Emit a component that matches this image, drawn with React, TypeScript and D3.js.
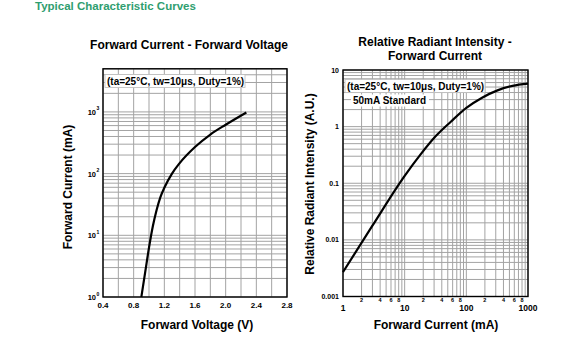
import React from "react";
import * as d3 from "d3";

// Left chart: Forward Current vs Forward Voltage
const vfVoltage = [0.9, 0.95, 1.0, 1.05, 1.1, 1.15, 1.2, 1.3, 1.4, 1.6, 1.8, 2.0, 2.27];
const vfCurrent = [1, 2.5, 6.3, 14, 26, 42, 59, 100, 148, 270, 430, 620, 980];
const vTicks = [0.4, 0.8, 1.2, 1.6, 2.0, 2.4, 2.8];
const vGrid = [0.6, 1.0, 1.4, 1.8, 2.2, 2.6];
const iExpTicks = [0, 1, 2, 3];

// Right chart: Relative Radiant Intensity vs Forward Current
const ifCurrent = [1, 3, 10, 18, 32, 56, 100, 180, 320, 560, 1000];
const relIntensity = [0.0027, 0.0178, 0.135, 0.32, 0.68, 1.22, 2.14, 3.24, 4.37, 5.25, 5.75];
const ifMajorTicks = [1, 10, 100, 1000];
const ifMinorLabels = [2, 4, 6, 8];
const relTicks = [10, 1, 0.1, 0.01, 0.001];
const relTickLabels = ["10", "1", "0.1", "0.01", "0.001"];

const FONT = "'Liberation Sans', Arial, sans-serif";
const GRID = "#a3a3a3";

function logGrid(min: number, max: number): number[] {
  const out: number[] = [];
  for (let e = Math.floor(Math.log10(min)); e <= Math.ceil(Math.log10(max)); e++) {
    for (let m = 1; m <= 9; m++) {
      const v = m * Math.pow(10, e);
      if (v >= min * 0.9999 && v <= max * 1.0001) out.push(v);
    }
  }
  return out;
}

export default function App() {
  const xL = d3.scaleLinear().domain([0.4, 2.8]).range([103, 287]);
  const yL = d3.scaleLog().domain([1, 5000]).range([297, 68.8]);
  const xR = d3.scaleLog().domain([1, 1000]).range([343, 528]);
  const yR = d3.scaleLog().domain([0.001, 10]).range([296.5, 70]);

  const lineL = d3
    .line<number>()
    .x((_, i) => xL(vfVoltage[i]))
    .y((d) => yL(d))
    .curve(d3.curveMonotoneX);
  const lineR = d3
    .line<number>()
    .x((_, i) => xR(ifCurrent[i]))
    .y((d) => yR(d))
    .curve(d3.curveMonotoneX);

  const lGridY = logGrid(1, 5000);
  const rGridX = logGrid(1, 1000);
  const rGridY = logGrid(0.001, 10);
  const lTop = yL.range()[1];

  return (
    <svg width={564} height={355} style={{ position: "absolute", left: 0, top: 0 }} fontFamily={FONT}>
      <rect x={0} y={0} width={564} height={355} fill="#fff" />
      <text x={35} y={10} fontSize={11.5} fontWeight="bold" fill="#2f9e6f">
        Typical Characteristic Curves
      </text>

      {/* ===== Left chart ===== */}
      <text x={189} y={49} textAnchor="middle" fontSize={12} fontWeight="bold">
        Forward Current - Forward Voltage
      </text>
      <g>
        {vGrid.concat(vTicks).map((v, i) => (
          <line key={"lv" + i} x1={xL(v)} x2={xL(v)} y1={lTop} y2={297} stroke={GRID} strokeWidth={1} />
        ))}
        {lGridY.map((v, i) => (
          <line key={"lh" + i} x1={103} x2={287} y1={yL(v)} y2={yL(v)} stroke={GRID} strokeWidth={1} />
        ))}
        <rect x={105} y={74.5} width={140} height={13} fill="#fff" stroke="#bbb" strokeWidth={0.8} />
        <text x={107} y={84.5} fontSize={10} fontWeight="bold">
          (ta=25°C, tw=10μs, Duty=1%)
        </text>
        <path d={lineL(vfCurrent) || ""} fill="none" stroke="#000" strokeWidth={2.2} />
        <rect x={103} y={lTop} width={184} height={297 - lTop} fill="none" stroke="#000" strokeWidth={1.4} />
        {vTicks.map((v, i) => (
          <text key={"lxt" + i} x={xL(v)} y={307.5} textAnchor="middle" fontSize={8} fontWeight="bold">
            {v.toFixed(1)}
          </text>
        ))}
        {iExpTicks.map((e) => (
          <text key={"lyt" + e} x={96} y={yL(Math.pow(10, e)) + 3} textAnchor="end" fontSize={7.5} fontWeight="bold">
            10
          </text>
        ))}
        {iExpTicks.map((e) => (
          <text key={"lys" + e} x={96.5} y={yL(Math.pow(10, e)) - 1.5} fontSize={5} fontWeight="bold">
            {e}
          </text>
        ))}
        <text x={197} y={329} textAnchor="middle" fontSize={12} fontWeight="bold">
          Forward Voltage (V)
        </text>
        <text transform="translate(72,187) rotate(-90)" textAnchor="middle" fontSize={12} fontWeight="bold">
          Forward Current (mA)
        </text>
      </g>

      {/* ===== Right chart ===== */}
      <text x={435} y={46} textAnchor="middle" fontSize={12} fontWeight="bold">
        Relative Radiant Intensity -
      </text>
      <text x={435} y={60} textAnchor="middle" fontSize={12} fontWeight="bold">
        Forward Current
      </text>
      <g>
        {rGridX.map((v, i) => (
          <line key={"rv" + i} x1={xR(v)} x2={xR(v)} y1={70} y2={296.5} stroke={GRID} strokeWidth={1} />
        ))}
        {rGridY.map((v, i) => (
          <line key={"rh" + i} x1={343} x2={528} y1={yR(v)} y2={yR(v)} stroke={GRID} strokeWidth={1} />
        ))}
        <rect x={345} y={79.5} width={140} height={13} fill="#fff" stroke="#bbb" strokeWidth={0.8} />
        <text x={347} y={89.5} fontSize={10} fontWeight="bold">
          (ta=25°C, tw=10μs, Duty=1%)
        </text>
        <rect x={351} y={94.5} width={78} height={12} fill="#fff" />
        <text x={353} y={104} fontSize={10} fontWeight="bold">
          50mA Standard
        </text>
        <path d={lineR(relIntensity) || ""} fill="none" stroke="#000" strokeWidth={2.2} />
        <rect x={343} y={70} width={185} height={226.5} fill="none" stroke="#000" strokeWidth={1.4} />
        {relTicks.map((v, i) => (
          <text key={"ryt" + i} x={339} y={yR(v) + 2.5} textAnchor="end" fontSize={7} fontWeight="bold">
            {relTickLabels[i]}
          </text>
        ))}
        {ifMajorTicks.map((v, i) => (
          <text key={"rxt" + i} x={xR(v)} y={310.5} textAnchor="middle" fontSize={8.5} fontWeight="bold">
            {String(v)}
          </text>
        ))}
        {[1, 10, 100].map((dec) =>
          ifMinorLabels.map((m) => (
            <text key={"rxm" + dec + "_" + m} x={xR(dec * m)} y={302} textAnchor="middle" fontSize={5.5} fontWeight="bold">
              {String(m)}
            </text>
          ))
        )}
        <text x={436} y={329} textAnchor="middle" fontSize={12} fontWeight="bold">
          Forward Current (mA)
        </text>
        <text transform="translate(314,184) rotate(-90)" textAnchor="middle" fontSize={12} fontWeight="bold">
          Relative Radiant Intensity (A.U.)
        </text>
      </g>
    </svg>
  );
}
